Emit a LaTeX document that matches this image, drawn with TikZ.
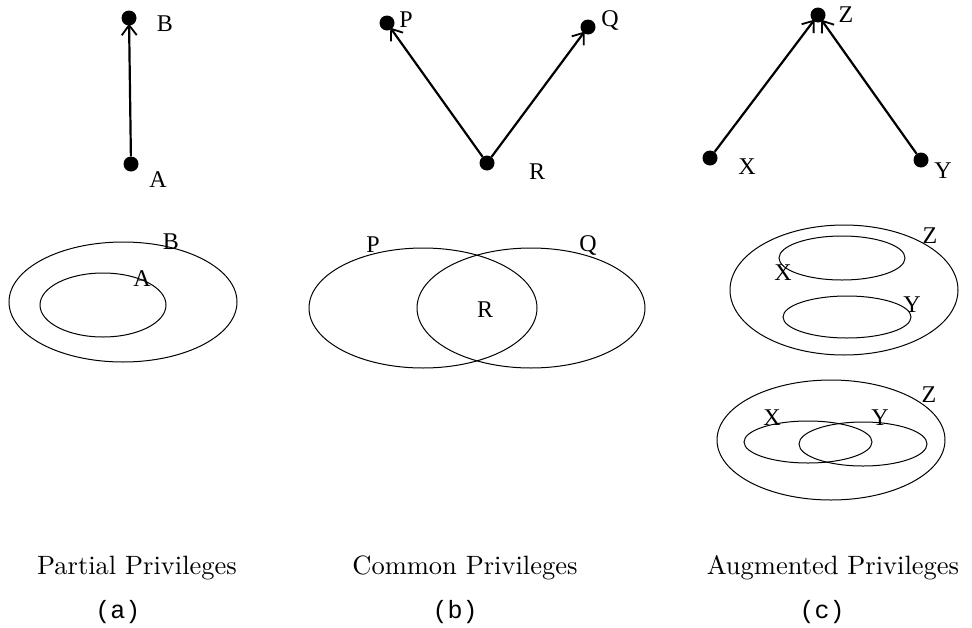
\documentclass[tikz,border=0pt]{standalone}
\usepackage{fontspec}
\usetikzlibrary{arrows.meta,positioning}
\newfontfamily\lblfont{Liberation Serif}
\newfontfamily\tagfont{Liberation Mono}
\newfontfamily\capfont{lmroman10-regular}[Extension=.otf]

\begin{document}
\begin{tikzpicture}[x=1pt,y=-1pt,
  dot/.style={circle,fill=black,inner sep=0pt,minimum size=15pt},
  lbl/.style={font=\lblfont\fontsize{24}{28}\selectfont,inner sep=0pt},
  caption/.style={font=\capfont\fontsize{26.5}{31}\selectfont,inner sep=0pt},
  tag/.style={font=\tagfont\fontsize{25}{30}\selectfont,inner sep=0pt},
  edge/.style={line width=2.2pt,-{Straight Barb[length=10pt,width=15pt,line width=1.8pt]},shorten >=-2pt},
  set/.style={line width=1pt}]
\useasboundingbox (0,0) rectangle (972,627);

% (a) partial
\node[dot] (a1) at (131,164) {};
\node[dot] (b1) at (129,18) {};
\node[lbl] at (158,180) {A};
\node[lbl] at (165,24) {B};
\draw[edge] (a1) -- (b1);

% (b) common
\node[dot] (r2) at (487,163) {};
\node[dot] (p2) at (387,23) {};
\node[dot] (q2) at (588,27) {};
\node[lbl] at (537,172) {R};
\node[lbl] at (406,20) {P};
\node[lbl] at (610,20) {Q};
\draw[edge] (r2) -- (p2);
\draw[edge] (r2) -- (q2);

% (c) augmented
\node[dot] (x3) at (710,158) {};
\node[dot] (y3) at (921,160) {};
\node[dot] (z3) at (818,15) {};
\node[lbl] at (747,167) {X};
\node[lbl] at (943,171) {Y};
\node[lbl] at (846,15) {Z};
\draw[edge] (x3) -- (z3);
\draw[edge] (y3) -- (z3);

% set pictures
\draw[set] (123,302) ellipse (114 and 60);
\draw[set] (103,305) ellipse (63 and 32);
\node[lbl] at (171,242) {B};
\node[lbl] at (142,279) {A};

\draw[set] (423,308) ellipse (114 and 60);
\draw[set] (531,308) ellipse (114 and 60);
\node[lbl] at (373,245) {P};
\node[lbl] at (588,245) {Q};
\node[lbl] at (485,310) {R};

\draw[set] (844,290) ellipse (114 and 65);
\draw[set] (842,258) ellipse (63 and 22);
\draw[set] (847,317) ellipse (64 and 21);
\node[lbl] at (930,236) {Z};
\node[lbl] at (783,273) {X};
\node[lbl] at (912,305) {Y};

\draw[set] (831,440) ellipse (114 and 60);
\draw[set] (808,442) ellipse (64 and 21);
\draw[set] (863,444) ellipse (64 and 22);
\node[lbl] at (929,395) {Z};
\node[lbl] at (772,418) {X};
\node[lbl] at (880,418) {Y};

% captions
\node[caption] (capa) at (137,568) {Partial Privileges};
\node[caption] (capb) at (465,568) {Common Privileges};
\node[caption] (capc) at (833,568) {Augmented Privileges};
\node[tag] (taga) at (118,612) {(a)};
\node[tag] (tagb) at (455,612) {(b)};
\node[tag] (tagc) at (822,612) {(c)};
\end{tikzpicture}
\end{document}
